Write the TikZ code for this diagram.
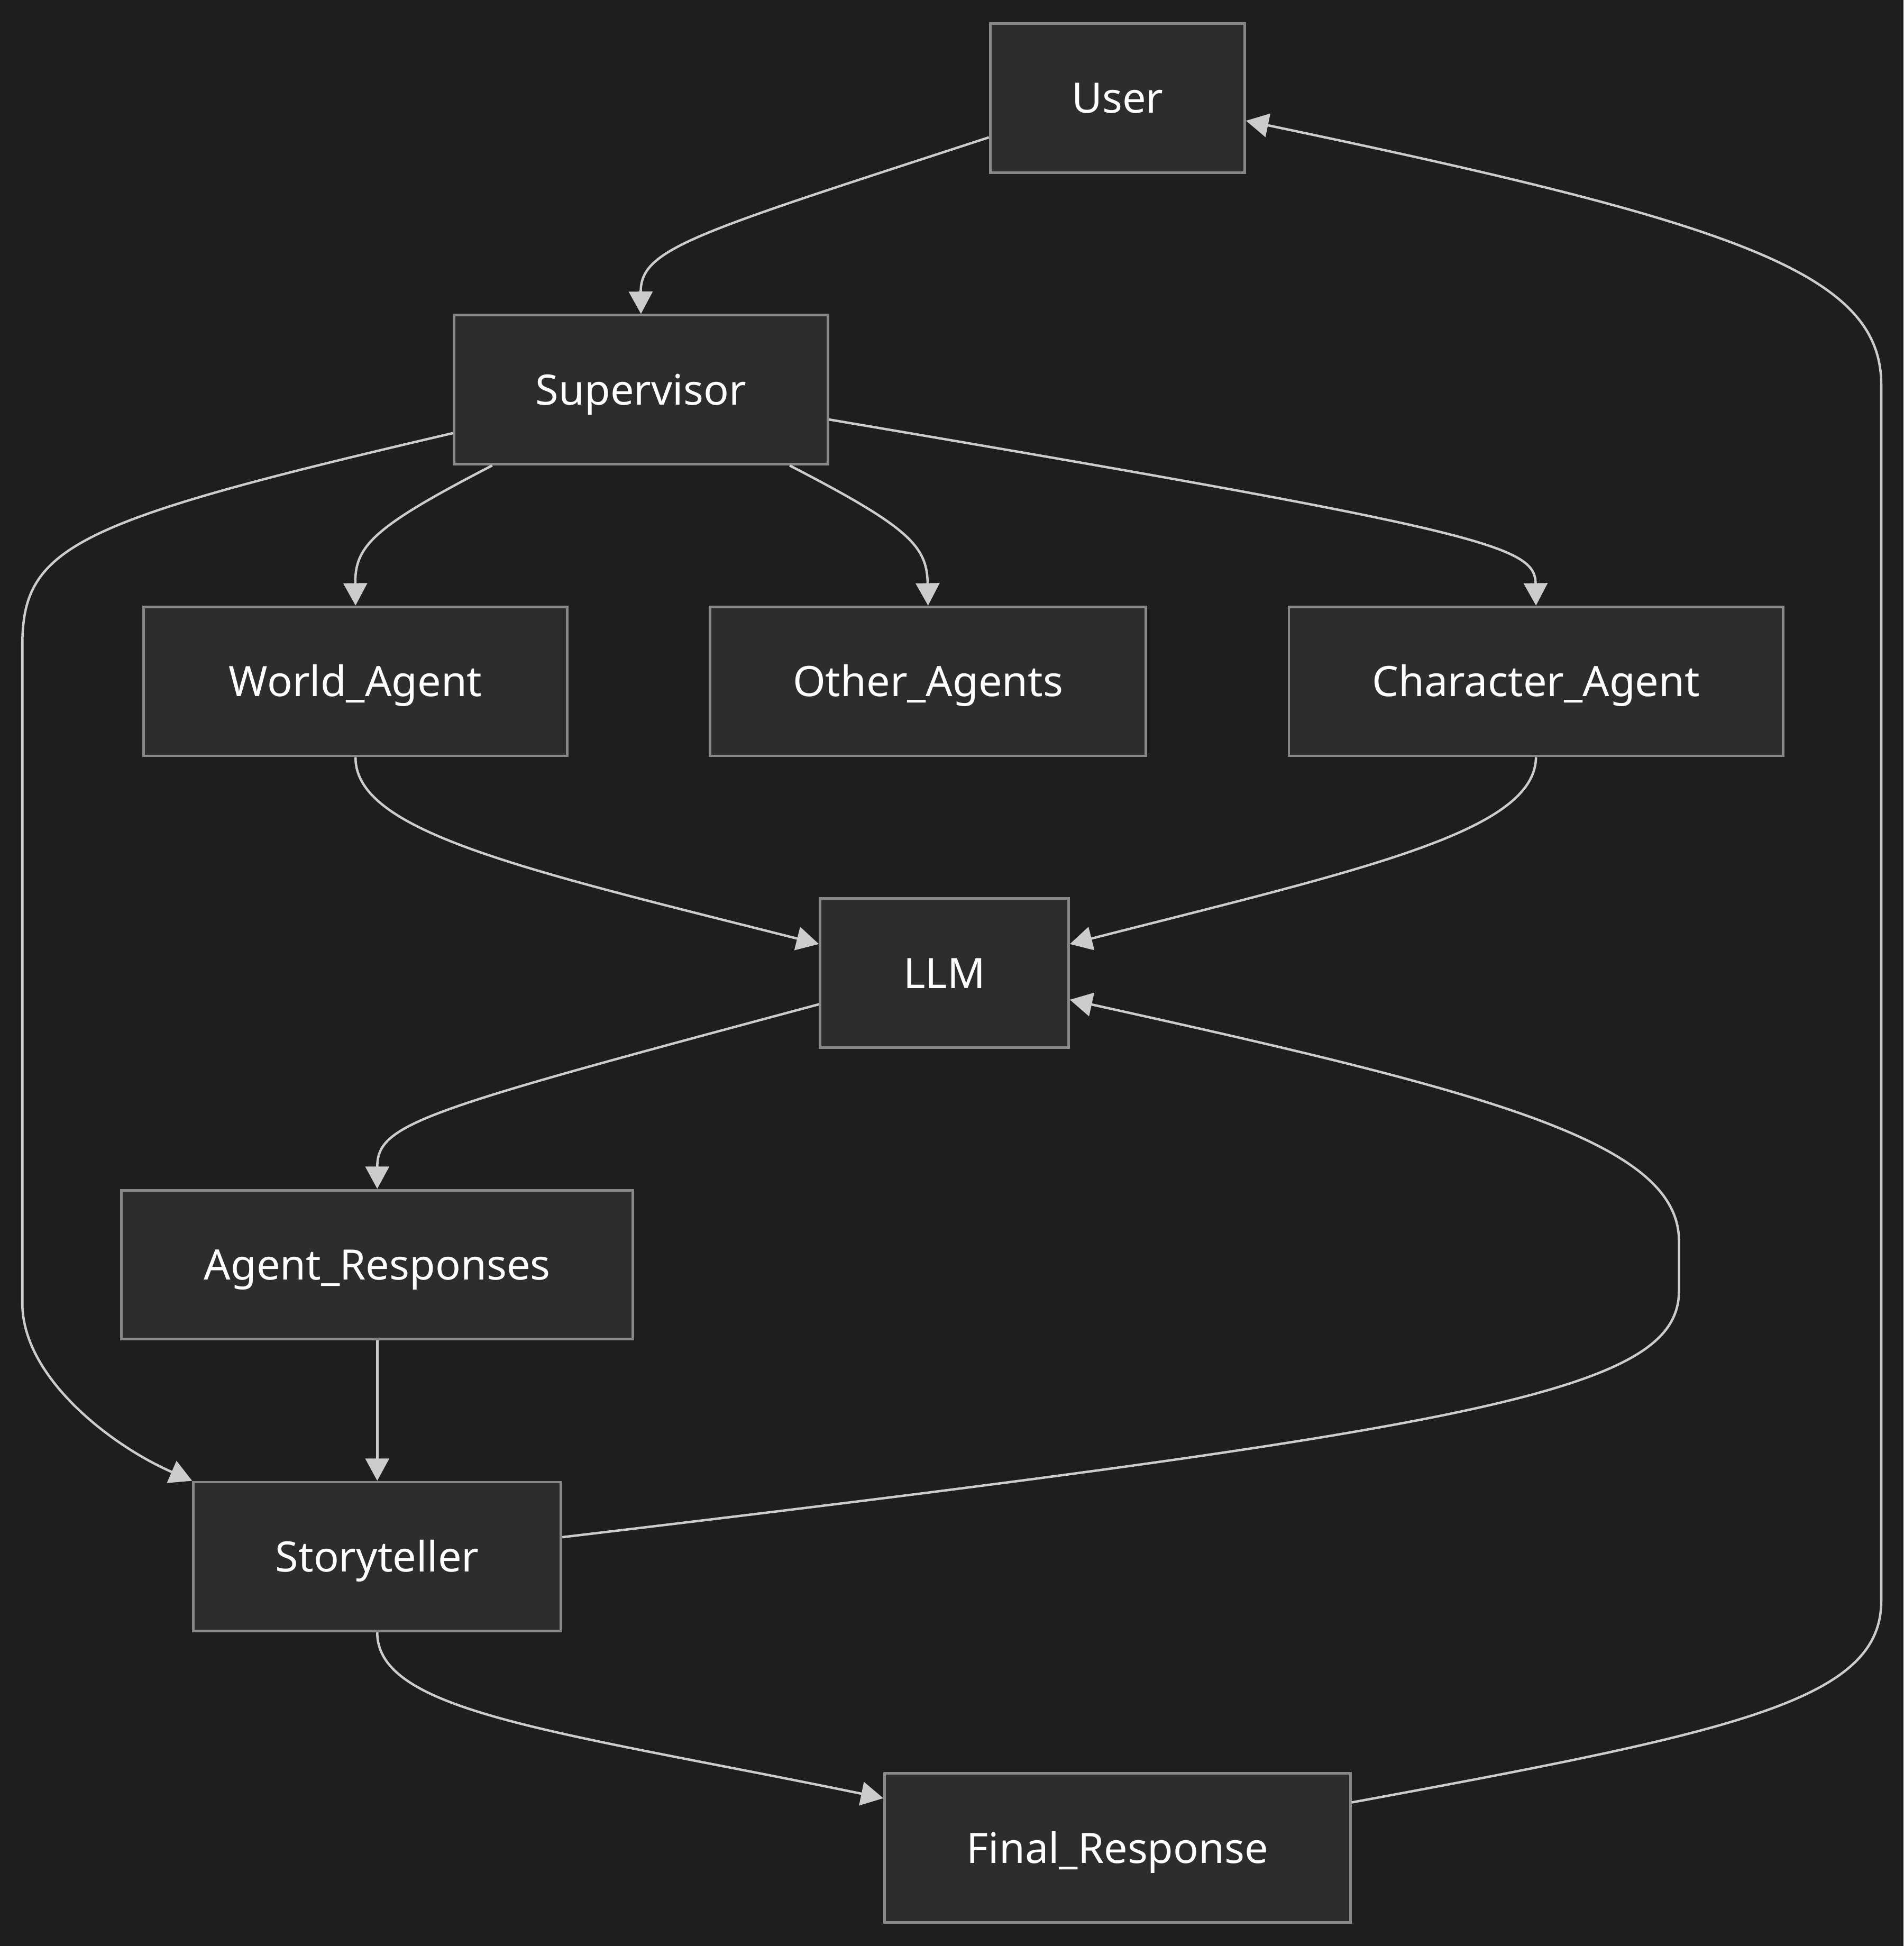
\documentclass[tikz,border=0pt]{standalone}
\usepackage{fontspec}
\setmainfont{Noto Sans}
\usetikzlibrary{positioning,arrows.meta}
\definecolor{canvas}{HTML}{1E1E1E}
\definecolor{boxfill}{HTML}{2D2D2D}
\definecolor{boxline}{HTML}{888888}
\definecolor{wire}{HTML}{CCCCCC}

\begin{document}
\begin{tikzpicture}[x=0.01cm, y=-0.01cm,
  agent/.style={draw=boxline, fill=boxfill, line width=0.6pt, text=white,
    minimum height=1.2cm, inner sep=0pt, text height=6.9pt, text depth=0pt,
    font=\fontsize{9.6}{12}\selectfont},
  flow/.style={draw=wire, line width=0.55pt, -{Triangle[length=0.18cm,width=0.19cm]}}]
 \fill[canvas] (0,0) rectangle (1534,1568);
 \node[agent, minimum width=2.05cm] (user) at (900.5,79) {User};
 \node[agent, minimum width=3.01cm] (sup) at (516.5,314) {Supervisor};
 \node[agent, minimum width=3.41cm] (world) at (286.5,549) {World\_Agent};
 \node[agent, minimum width=3.51cm, right=1.13cm of world] (other) {Other\_Agents};
 \node[agent, minimum width=3.98cm, right=1.13cm of other] (char) {Character\_Agent};
 \node[agent, minimum width=2.00cm] (llm) at (761,784) {LLM};
 \node[agent, minimum width=4.12cm] (resp) at (304,1019) {Agent\_Responses};
 \node[agent, minimum width=2.96cm, below=1.13cm of resp] (story) {Storyteller};
 \node[agent, minimum width=3.75cm] (final) at (900.5,1489) {Final\_Response};
 % supervisor fans out
 \draw[flow] (user.197) .. controls (560,188) and (516,200) .. (sup.north);
 \draw[flow] (sup.207) .. controls (300,425) and (286,440) .. (world.north);
 \draw[flow] (sup.333) .. controls (733,425) and (747,440) .. (other.north);
 \draw[flow] (sup.351) .. controls (1200,428) and (1237,440) .. (char.north);
 \draw[flow] (sup.193) .. controls (60,420) and (18,440) .. (18,520) -- (18,1050)
   .. controls (18,1110) and (90,1165) .. (story.north west);
 % agents ask the llm
 \draw[flow] (world.south) .. controls (286,670) and (420,700) .. (llm.167);
 \draw[flow] (char.south) .. controls (1237,670) and (1100,700) .. (llm.13);
 \draw[flow] (llm.194) .. controls (340,895) and (304,905) .. (resp.north);
 \draw[flow] (resp) -- (story);
 \draw[flow] (story.6) .. controls (1200,1150) and (1353,1120) .. (1353,1040) -- (1353,1000)
   .. controls (1353,920) and (1200,880) .. (llm.348);
 % back to the user
 \draw[flow] (story.south) .. controls (304,1380) and (450,1395) .. (final.168);
 \draw[flow] (final.11) .. controls (1400,1395) and (1516,1370) .. (1516,1290) -- (1516,310)
   .. controls (1516,220) and (1400,180) .. (user.350);
\end{tikzpicture}
\end{document}
